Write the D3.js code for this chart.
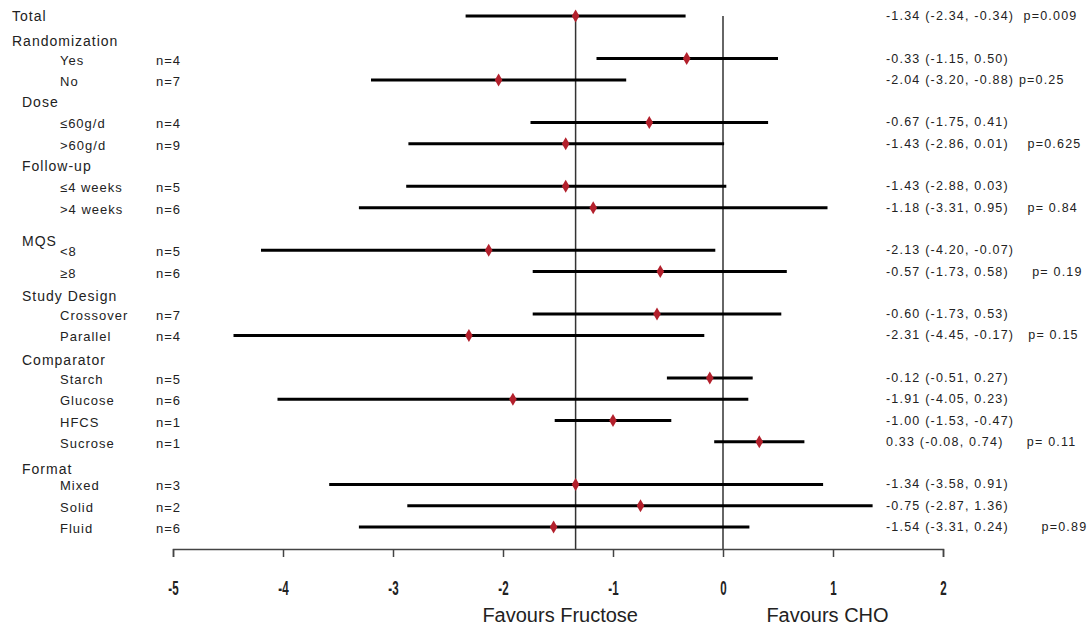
<!DOCTYPE html>
<html>
<head>
<meta charset="utf-8">
<script src="https://cdn.jsdelivr.net/npm/d3@7"></script>
<style>
  body { margin: 0; background: #fff; }
  text { font-family: "Liberation Sans", Arial, sans-serif; fill: #222; }
  .lbl { letter-spacing: 1px; }
  .ci { font-size: 12.5px; letter-spacing: 1.2px; white-space: pre; }
  .tick text { font-weight: bold; }
</style>
</head>
<body>
<div id="chart"></div>
<script>
// subgroup rows, top to bottom
const labels = ["Total", "Yes", "No", "≤60g/d", ">60g/d", "≤4 weeks", ">4 weeks", "<8", "≥8",
  "Crossover", "Parallel", "Starch", "Glucose", "HFCS", "Sucrose", "Mixed", "Solid", "Fluid"]
const nStudies = [null, 4, 7, 4, 9, 5, 6, 5, 6, 7, 4, 5, 6, 1, 1, 3, 2, 6]
const estimates = [-1.34, -0.33, -2.04, -0.67, -1.43, -1.43, -1.18, -2.13, -0.57, -0.60, -2.31, -0.12, -1.91, -1.00, 0.33, -1.34, -0.75, -1.54]
const lower = [-2.34, -1.15, -3.20, -1.75, -2.86, -2.88, -3.31, -4.20, -1.73, -1.73, -4.45, -0.51, -4.05, -1.53, -0.08, -3.58, -2.87, -3.31]
const upper = [-0.34, 0.50, -0.88, 0.41, 0.01, 0.03, 0.95, -0.07, 0.58, 0.53, -0.17, 0.27, 0.23, -0.47, 0.74, 0.91, 1.36, 0.24]
const pValues = ["  p=0.009", "", " p=0.25", "", "    p=0.625", "", "    p= 0.84", "", "     p= 0.19", "", "   p= 0.15", "", "", "", "     p= 0.11", "", "", "       p=0.89"]
// row slot of each subgroup (the gaps hold the group headings)
const rowSlots = [0, 2, 3, 5, 6, 8, 9, 11, 12, 14, 15, 17, 18, 19, 20, 22, 23, 24]

const groupNames = ["Randomization", "Dose", "Follow-up", "MQS", "Study Design", "Comparator", "Format"]
const groupSlots = [1.2, 4.1, 7.1, 10.6, 13.2, 16.2, 21.3]

const xTicks = [-5, -4, -3, -2, -1, 0, 1, 2]
const sideLabels = ["Favours Fructose", "Favours CHO"]
const sideCenters = [-1.48, 0.95]

const width = 1091, height = 626

const rows = labels.map((label, i) => ({
  label, n: nStudies[i], est: estimates[i], lo: lower[i], hi: upper[i], p: pValues[i], slot: rowSlots[i]
}))

const svg = d3.select("#chart").append("svg")
  .attr("width", width)
  .attr("height", height)

const x = d3.scaleLinear().domain([-5, 2]).range([173, 943])
const y = d3.scaleLinear().domain([0, 24]).range([16, 527])
const axisY = 549

// reference lines: no effect and pooled estimate
svg.append("line")
  .attr("x1", x(0)).attr("x2", x(0))
  .attr("y1", y(0)).attr("y2", axisY)
  .attr("stroke", "#333").attr("stroke-width", 1.5)

svg.append("line")
  .attr("x1", x(estimates[0])).attr("x2", x(estimates[0]))
  .attr("y1", y(0)).attr("y2", axisY)
  .attr("stroke", "#333").attr("stroke-width", 1.5)

// axis
const axis = svg.append("g")
  .attr("transform", `translate(0,${axisY})`)
  .call(d3.axisBottom(x).tickValues(xTicks).tickFormat(d => String(d)).tickSize(8).tickPadding(0))
axis.select(".domain").attr("stroke", "#444").attr("stroke-width", 1.5)
axis.selectAll(".tick line").attr("stroke", "#444").attr("stroke-width", 1.5)
axis.selectAll(".tick text")
  .attr("y", 0)
  .attr("dy", null)
  .attr("font-size", 21)
  .attr("font-family", "Liberation Sans, Arial, sans-serif")
  .attr("fill", "#111")
  .attr("transform", "translate(0,46) scale(0.55,1)")

svg.selectAll(".side")
  .data(sideLabels)
  .enter()
  .append("text")
  .attr("class", "side")
  .attr("x", (d, i) => x(sideCenters[i]))
  .attr("y", 622)
  .attr("text-anchor", "middle")
  .attr("font-size", 20)
  .text(d => d)

// confidence intervals
svg.selectAll(".ci-line")
  .data(rows)
  .enter()
  .append("line")
  .attr("x1", d => x(d.lo))
  .attr("x2", d => x(d.hi))
  .attr("y1", d => y(d.slot))
  .attr("y2", d => y(d.slot))
  .attr("stroke", "#000")
  .attr("stroke-width", 3)

// point estimates
svg.selectAll(".point")
  .data(rows)
  .enter()
  .append("path")
  .attr("d", "M0,-6.5L3.8,0L0,6.5L-3.8,0Z")
  .attr("transform", d => `translate(${x(d.est)},${y(d.slot)})`)
  .attr("fill", "#b3202c")

// left labels
svg.selectAll(".row-label")
  .data(rows)
  .enter()
  .append("text")
  .attr("class", "lbl")
  .attr("x", (d, i) => i === 0 ? 12 : 60)
  .attr("y", d => y(d.slot) + (d.n === null ? 5 : 6))
  .attr("font-size", d => d.n === null ? 14 : 13)
  .text(d => d.label)

svg.selectAll(".n-label")
  .data(rows.filter(d => d.n !== null))
  .enter()
  .append("text")
  .attr("class", "lbl")
  .attr("x", 156)
  .attr("y", d => y(d.slot) + 6)
  .attr("font-size", 13)
  .text(d => "n=" + d.n)

svg.selectAll(".group-label")
  .data(groupNames)
  .enter()
  .append("text")
  .attr("class", "lbl")
  .attr("x", (d, i) => i === 0 ? 12 : 22)
  .attr("y", (d, i) => y(groupSlots[i]) + 4)
  .attr("font-size", 14)
  .text(d => d)

// effect sizes on the right, with a plain hyphen for minus
const f = d3.formatLocale({ decimal: ".", thousands: ",", grouping: [3], currency: ["$", ""], minus: "-" }).format(".2f")
svg.selectAll(".ci-text")
  .data(rows)
  .enter()
  .append("text")
  .attr("class", "ci")
  .attr("x", 886)
  .attr("y", d => y(d.slot) + 4)
  .text(d => `${f(d.est)} (${f(d.lo)}, ${f(d.hi)})${d.p}`)
</script>
</body>
</html>
